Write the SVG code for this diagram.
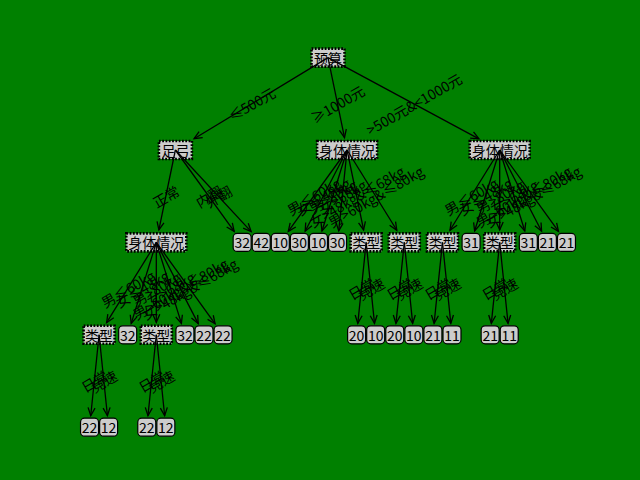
<svg xmlns="http://www.w3.org/2000/svg" width="640" height="480" viewBox="0 0 640 480">
<defs>
<style>
text { font-family: "Noto Sans CJK SC", "Noto Sans", sans-serif; font-size: 14px; fill: #000; text-anchor: middle; dominant-baseline: central; }
.dec { fill: #cccccc; stroke: #000; stroke-width: 2.6; stroke-dasharray: 1.8 1.5; }
.leaf { fill: #cccccc; stroke: #000; stroke-width: 1.2; }
.edge line { stroke: #000; stroke-width: 1.3; fill: none; marker-end: url(#ah); }
</style>
<marker id="ah" markerUnits="userSpaceOnUse" orient="auto" refX="0" refY="0" markerWidth="12" markerHeight="12" overflow="visible">
<path d="M-8,-3.5 L0,0 L-8,3.5" fill="none" stroke="#000" stroke-width="1.3"/>
</marker>
</defs>
<rect x="0" y="0" width="640" height="480" fill="#008000"/>

<g id="nodes">
<g id="n-root"><rect class="dec" x="311.5" y="48.6" width="33" height="18"/><text x="328" y="57.6">预算</text></g>
<g id="n-A"><rect class="dec" x="158.9" y="141" width="33" height="18"/><text x="175.4" y="150">足弓</text></g>
<g id="n-B"><rect class="dec" x="317.1" y="141" width="60" height="18"/><text x="347.1" y="150">身体情况</text></g>
<g id="n-C"><rect class="dec" x="469.7" y="141" width="60" height="18"/><text x="499.7" y="150">身体情况</text></g>
<g id="n-D"><rect class="dec" x="126.3" y="233.4" width="60" height="18"/><text x="156.3" y="242.4">身体情况</text></g>
<g id="n-T1"><rect class="dec" x="83.6" y="325.8" width="31" height="18"/><text x="99.1" y="334.8">类型</text></g>
<g id="n-T2"><rect class="dec" x="140.8" y="325.8" width="31" height="18"/><text x="156.3" y="334.8">类型</text></g>
<g id="n-T3"><rect class="dec" x="350.65" y="233.4" width="31" height="18"/><text x="366.15" y="242.4">类型</text></g>
<g id="n-T4"><rect class="dec" x="388.8" y="233.4" width="31" height="18"/><text x="404.3" y="242.4">类型</text></g>
<g id="n-T5"><rect class="dec" x="426.96" y="233.4" width="31" height="18"/><text x="442.46" y="242.4">类型</text></g>
<g id="n-T6"><rect class="dec" x="484.2" y="233.4" width="31" height="18"/><text x="499.7" y="242.4">类型</text></g>

<g id="l-0"><rect class="leaf" x="80.54" y="418.2" width="18" height="18" rx="4"/><text x="89.54" y="427.2">22</text></g>
<g id="l-1"><rect class="leaf" x="99.62" y="418.2" width="18" height="18" rx="4"/><text x="108.62" y="427.2">12</text></g>
<g id="l-2"><rect class="leaf" x="118.69" y="325.8" width="18" height="18" rx="4"/><text x="127.69" y="334.8">32</text></g>
<g id="l-3"><rect class="leaf" x="137.77" y="418.2" width="18" height="18" rx="4"/><text x="146.77" y="427.2">22</text></g>
<g id="l-4"><rect class="leaf" x="156.85" y="418.2" width="18" height="18" rx="4"/><text x="165.85" y="427.2">12</text></g>
<g id="l-5"><rect class="leaf" x="175.92" y="325.8" width="18" height="18" rx="4"/><text x="184.92" y="334.8">32</text></g>
<g id="l-6"><rect class="leaf" x="195" y="325.8" width="18" height="18" rx="4"/><text x="204" y="334.8">22</text></g>
<g id="l-7"><rect class="leaf" x="214.08" y="325.8" width="18" height="18" rx="4"/><text x="223.08" y="334.8">22</text></g>
<g id="l-8"><rect class="leaf" x="233.15" y="233.4" width="18" height="18" rx="4"/><text x="242.15" y="242.4">32</text></g>
<g id="l-9"><rect class="leaf" x="252.23" y="233.4" width="18" height="18" rx="4"/><text x="261.23" y="242.4">42</text></g>
<g id="l-10"><rect class="leaf" x="271.31" y="233.4" width="18" height="18" rx="4"/><text x="280.31" y="242.4">10</text></g>
<g id="l-11"><rect class="leaf" x="290.38" y="233.4" width="18" height="18" rx="4"/><text x="299.38" y="242.4">30</text></g>
<g id="l-12"><rect class="leaf" x="309.46" y="233.4" width="18" height="18" rx="4"/><text x="318.46" y="242.4">10</text></g>
<g id="l-13"><rect class="leaf" x="328.54" y="233.4" width="18" height="18" rx="4"/><text x="337.54" y="242.4">30</text></g>
<g id="l-14"><rect class="leaf" x="347.62" y="325.8" width="18" height="18" rx="4"/><text x="356.62" y="334.8">20</text></g>
<g id="l-15"><rect class="leaf" x="366.69" y="325.8" width="18" height="18" rx="4"/><text x="375.69" y="334.8">10</text></g>
<g id="l-16"><rect class="leaf" x="385.77" y="325.8" width="18" height="18" rx="4"/><text x="394.77" y="334.8">20</text></g>
<g id="l-17"><rect class="leaf" x="404.85" y="325.8" width="18" height="18" rx="4"/><text x="413.85" y="334.8">10</text></g>
<g id="l-18"><rect class="leaf" x="423.92" y="325.8" width="18" height="18" rx="4"/><text x="432.92" y="334.8">21</text></g>
<g id="l-19"><rect class="leaf" x="443" y="325.8" width="18" height="18" rx="4"/><text x="452" y="334.8">11</text></g>
<g id="l-20"><rect class="leaf" x="462.08" y="233.4" width="18" height="18" rx="4"/><text x="471.08" y="242.4">31</text></g>
<g id="l-21"><rect class="leaf" x="481.15" y="325.8" width="18" height="18" rx="4"/><text x="490.15" y="334.8">21</text></g>
<g id="l-22"><rect class="leaf" x="500.23" y="325.8" width="18" height="18" rx="4"/><text x="509.23" y="334.8">11</text></g>
<g id="l-23"><rect class="leaf" x="519.31" y="233.4" width="18" height="18" rx="4"/><text x="528.31" y="242.4">31</text></g>
<g id="l-24"><rect class="leaf" x="538.38" y="233.4" width="18" height="18" rx="4"/><text x="547.38" y="242.4">21</text></g>
<g id="l-25"><rect class="leaf" x="557.46" y="233.4" width="18" height="18" rx="4"/><text x="566.46" y="242.4">21</text></g>
</g>

<g id="connectors" class="edge">
<line x1="328" y1="57.6" x2="194.04" y2="138.7"/>
<line x1="328" y1="57.6" x2="344.51" y2="137.55"/>
<line x1="328" y1="57.6" x2="478.91" y2="138.82"/>
<text transform="translate(251.69,103.8) rotate(-30)">≤500元</text>
<text transform="translate(337.54,103.8) rotate(-30)">≥1000元</text>
<text transform="translate(413.85,103.8) rotate(-30)">&gt;500元&amp;&lt;1000元</text>

<line x1="175.38" y1="150" x2="158.88" y2="229.95"/>
<line x1="175.38" y1="150" x2="234.18" y2="231.38"/>
<line x1="175.38" y1="150" x2="251.16" y2="231.57"/>
<text transform="translate(165.85,196.2) rotate(-30)">正常</text>
<text transform="translate(208.77,196.2) rotate(-30)">内翻</text>
<text transform="translate(218.31,196.2) rotate(-30)">外翻</text>

<line x1="347.08" y1="150" x2="288.28" y2="231.38"/>
<line x1="347.08" y1="150" x2="305.17" y2="231.18"/>
<line x1="347.08" y1="150" x2="321.99" y2="231.01"/>
<line x1="347.08" y1="150" x2="338.73" y2="230.91"/>
<line x1="347.08" y1="150" x2="363.58" y2="229.95"/>
<line x1="347.08" y1="150" x2="396.8" y2="230.28"/>
<text transform="translate(313.69,196.2) rotate(-30)">男≤60kg</text>
<text transform="translate(323.23,196.2) rotate(-30)">女≤48kg</text>
<text transform="translate(332.77,196.2) rotate(-30)">男&gt;80kg</text>
<text transform="translate(342.31,196.2) rotate(-30)">女&gt;68kg</text>
<text transform="translate(356.62,196.2) rotate(-30)">女&gt;48kg&amp;≤68kg</text>
<text transform="translate(375.69,196.2) rotate(-30)">男&gt;60kg&amp;≤80kg</text>

<line x1="499.69" y1="150" x2="449.97" y2="230.28"/>
<line x1="499.69" y1="150" x2="474.61" y2="231.01"/>
<line x1="499.69" y1="150" x2="499.69" y2="229.9"/>
<line x1="499.69" y1="150" x2="524.78" y2="231.01"/>
<line x1="499.69" y1="150" x2="541.59" y2="231.18"/>
<line x1="499.69" y1="150" x2="558.49" y2="231.38"/>
<text transform="translate(471.08,196.2) rotate(-30)">男≤60kg</text>
<text transform="translate(485.38,196.2) rotate(-30)">女≤48kg</text>
<text transform="translate(499.69,196.2) rotate(-30)">男&gt;80kg</text>
<text transform="translate(514,196.2) rotate(-30)">女&gt;68kg</text>
<text transform="translate(523.54,196.2) rotate(-30)">男&gt;60kg&amp;≤80kg</text>
<text transform="translate(533.08,196.2) rotate(-30)">女&gt;48kg&amp;≤68kg</text>

<line x1="156.31" y1="242.4" x2="106.59" y2="322.68"/>
<line x1="156.31" y1="242.4" x2="131.22" y2="323.41"/>
<line x1="156.31" y1="242.4" x2="156.31" y2="322.3"/>
<line x1="156.31" y1="242.4" x2="181.39" y2="323.41"/>
<line x1="156.31" y1="242.4" x2="198.21" y2="323.58"/>
<line x1="156.31" y1="242.4" x2="215.11" y2="323.78"/>
<text transform="translate(127.69,288.6) rotate(-30)">男≤60kg</text>
<text transform="translate(142,288.6) rotate(-30)">女≤48kg</text>
<text transform="translate(156.31,288.6) rotate(-30)">男&gt;80kg</text>
<text transform="translate(170.62,288.6) rotate(-30)">女&gt;68kg</text>
<text transform="translate(180.15,288.6) rotate(-30)">男&gt;60kg&amp;≤80kg</text>
<text transform="translate(189.69,288.6) rotate(-30)">女&gt;48kg&amp;≤68kg</text>

<line x1="99.08" y1="334.8" x2="90.73" y2="415.71"/>
<line x1="99.08" y1="334.8" x2="107.43" y2="415.71"/>
<text transform="translate(94.31,381) rotate(-30)">日常</text>
<text transform="translate(103.85,381) rotate(-30)">竞速</text>
<line x1="156.31" y1="334.8" x2="147.96" y2="415.71"/>
<line x1="156.31" y1="334.8" x2="164.66" y2="415.71"/>
<text transform="translate(151.54,381) rotate(-30)">日常</text>
<text transform="translate(161.08,381) rotate(-30)">竞速</text>

<line x1="366.15" y1="242.4" x2="357.81" y2="323.31"/>
<line x1="366.15" y1="242.4" x2="374.5" y2="323.31"/>
<text transform="translate(361.38,288.6) rotate(-30)">日常</text>
<text transform="translate(370.92,288.6) rotate(-30)">竞速</text>
<line x1="404.31" y1="242.4" x2="395.96" y2="323.31"/>
<line x1="404.31" y1="242.4" x2="412.66" y2="323.31"/>
<text transform="translate(399.54,288.6) rotate(-30)">日常</text>
<text transform="translate(409.08,288.6) rotate(-30)">竞速</text>
<line x1="442.46" y1="242.4" x2="434.11" y2="323.31"/>
<line x1="442.46" y1="242.4" x2="450.81" y2="323.31"/>
<text transform="translate(437.69,288.6) rotate(-30)">日常</text>
<text transform="translate(447.23,288.6) rotate(-30)">竞速</text>
<line x1="499.69" y1="242.4" x2="491.34" y2="323.31"/>
<line x1="499.69" y1="242.4" x2="508.04" y2="323.31"/>
<text transform="translate(494.92,288.6) rotate(-30)">日常</text>
<text transform="translate(504.46,288.6) rotate(-30)">竞速</text>
</g>
</svg>
